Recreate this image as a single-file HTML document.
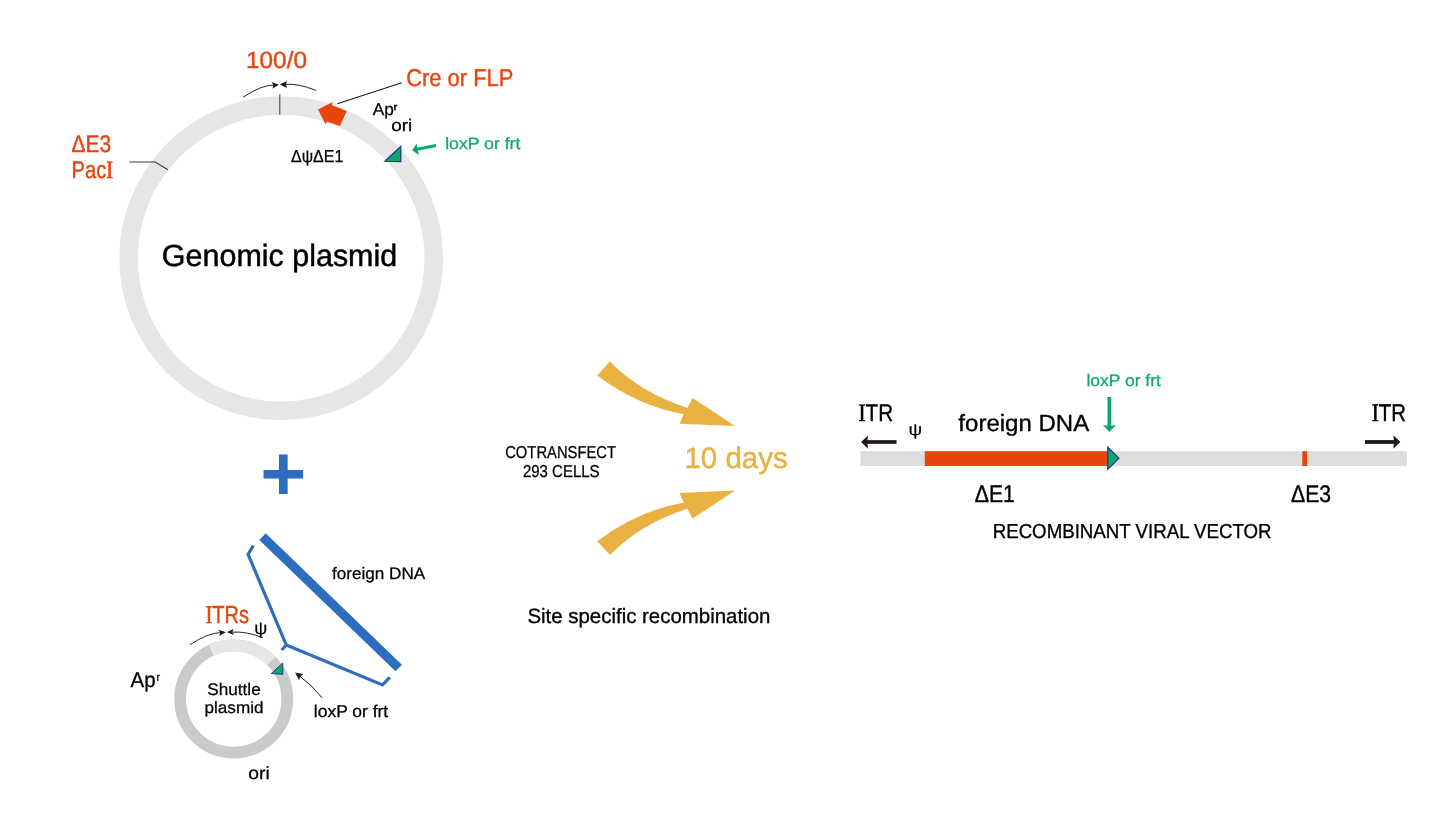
<!DOCTYPE html>
<html lang="en">
<head>
<meta charset="utf-8">
<title>Site specific recombination</title>
<style>
html,body{margin:0;padding:0;background:#fff;}
body{width:1450px;height:834px;overflow:hidden;}
svg{display:block;}
text{font-family:"Liberation Sans", sans-serif;white-space:pre;text-rendering:geometricPrecision;}
.sf{font-family:"Liberation Serif",serif;}
.sup{font-weight:bold;stroke-width:0.3px;}
</style>
</head>
<body>
<svg width="1450" height="834" viewBox="0 0 1450 834" role="img" aria-label="Site specific recombination diagram">
<rect width="1450" height="834" fill="#fff"/>
<circle cx="281.2" cy="258.2" r="152.6" fill="none" stroke="#E6E6E6" stroke-width="18.5"/>
<path d="M279.8 94.2V114.8" stroke="#4A4645" stroke-width="1.1" fill="none"/>
<path d="M129.3 162H155.1L167.9 169.7" stroke="#3E3A39" stroke-width="1.1" fill="none"/>
<path d="M401.8 82.8L337.4 103.7" stroke="#231815" stroke-width="1.1" fill="none"/>
<path d="M318 109.5L332.7 101.9L332 105.2L346.8 111.1L339.9 126L327 121.4L325.5 124.2Z" fill="#E8440C"/>
<path d="M400.8 146.4V161.6L384.9 161.3Z" fill="#0CA771" stroke="#1B2F8E" stroke-width="1.2" stroke-linejoin="miter"/>
<path d="M436.1 145.5L417 149.3" stroke="#0CA771" stroke-width="3" fill="none"/>
<path d="M412.1 150.3L416.6 143.7L417.7 149.2L418.8 155Z" fill="#0CA771"/>
<path d="M243.1 97.2Q262 84.5 274.5 85.2" stroke="#231815" stroke-width="0.95" fill="none"/>
<path d="M278.9 84.8L271.6 82.1L273.6 85.4L272.3 88.8Z" fill="#231815"/>
<path d="M285.5 84.4Q298 83.2 315.9 90.4" stroke="#231815" stroke-width="0.95" fill="none"/>
<path d="M279.7 84.6L287 81.1L285.9 84.4L287.1 87.9Z" fill="#231815"/>
<circle cx="233.7" cy="699" r="53.6" fill="none" stroke="#C9CACA" stroke-width="11.8"/>
<path d="M211.13 650.38 A53.6 53.6 0 0 1 271.47 660.97" fill="none" stroke="#E6E6E6" stroke-width="11.8"/>
<path d="M282.8 663V674.3L271.2 673.6Z" fill="#0CA771" stroke="#1B2F8E" stroke-width="0.9"/>
<path d="M190 644.7Q208 632.8 221 632.6" stroke="#231815" stroke-width="0.95" fill="none"/>
<path d="M225.9 632.3L218.4 629.8L220.3 632.7L219.2 636Z" fill="#231815"/>
<path d="M232 632.1Q247 631.3 262.8 637.7" stroke="#231815" stroke-width="0.95" fill="none"/>
<path d="M227 632.3L233.3 629.1L232.3 632.2L233.9 634.9Z" fill="#231815"/>
<path d="M322 697.8Q311 684 299.5 676" stroke="#231815" stroke-width="1" fill="none"/>
<path d="M295.1 672.6L303.3 674.1L300.2 676.5L299.1 680.3Z" fill="#231815"/>
<path d="M262.45 536.65L398.7 667.95" stroke="#2E6DBE" stroke-width="9.2" fill="none"/>
<path d="M253.3 545.7L248.1 554.3L286.3 645.1L382.5 684.9L389.8 677.4M286.3 645.1L281.6 650" stroke="#2E6DBE" stroke-width="3.2" fill="none" stroke-linejoin="miter"/>
<path d="M609.9 361.6 Q640.5 393 687.3 407.9 L692.6 398 L735.1 426.1 L679.4 423.7 L683.8 414.2 Q637 405.5 597.2 375.4 Z" fill="#E8B142"/>
<path d="M609.9 555 Q640.5 523.6 687.3 508.7 L692.6 518.6 L735.1 490.5 L679.4 492.9 L683.8 502.4 Q637 511.1 597.2 541.2 Z" fill="#E8B142"/>
<rect x="860.4" y="451.2" width="546.5" height="14.8" fill="#DCDDDD"/>
<rect x="924.8" y="451.2" width="183" height="14.8" fill="#E8440C"/>
<rect x="1302.3" y="451.2" width="4.8" height="14.8" fill="#E8440C"/>
<path d="M1107.8 447.1L1118.9 458.2L1107.8 469.3Z" fill="#0CA771" stroke="#1B2F8E" stroke-width="1.2"/>
<path d="M896.5 442H866.8" stroke="#231815" stroke-width="3.7" fill="none"/>
<path d="M861.1 442L868 435.4L867.2 442L868 448.7Z" fill="#231815"/>
<path d="M1365 442H1394.6" stroke="#231815" stroke-width="3.8" fill="none"/>
<path d="M1400.3 442L1393.3 435.2L1394.1 442L1393.3 448.8Z" fill="#231815"/>
<path d="M1109.4 397V426.5" stroke="#0CA771" stroke-width="3.8" fill="none"/>
<path d="M1109.4 432L1102.7 424.9L1109.4 426.1L1116 424.9Z" fill="#0CA771"/>
<text transform="translate(245.95 68.2) scale(1.0389 0.9969)" font-size="23.5" fill="#E8440C" stroke="#E8440C" stroke-width="0.37">100/0</text>
<text transform="translate(406.17 85.9) scale(0.9329 1.0319)" font-size="23.5" fill="#E8440C" stroke="#E8440C" stroke-width="0.38">Cre or FLP</text>
<text transform="translate(71.53 151.8) scale(0.8918 1.0232)" font-size="23.5" fill="#E8440C" stroke="#E8440C" stroke-width="0.39">ΔE3</text>
<text transform="translate(71.61 178) scale(0.8548 1.0294)" font-size="23.5" fill="#E8440C" stroke="#E8440C" stroke-width="0.4">Pac<tspan class="sf" font-size="24.2" stroke-width="0.6">I</tspan></text>
<text transform="translate(372.76 114.7) scale(1.0412 1.0405)" font-size="16.5" fill="#000000" stroke="#000000" stroke-width="0.25">Ap<tspan class="sup" dx="-0.2" dy="-4.9" font-size="9.2">r</tspan></text>
<text transform="translate(391.32 130.7) scale(1.1107 0.9972)" font-size="17" fill="#000000" stroke="#000000" stroke-width="0.26">ori</text>
<text transform="translate(291.02 161.8) scale(0.9689 1.0479)" font-size="16.5" fill="#000000" stroke="#000000" stroke-width="0.26">ΔψΔE1</text>
<text transform="translate(445.18 148.5) scale(1.0689 1.0002)" font-size="16.5" fill="#0CA771" stroke="#0CA771" stroke-width="0.26">loxP or frt</text>
<text transform="translate(161.87 266.3) scale(1.0154 1.0203)" font-size="30" fill="#000000" stroke="#000000" stroke-width="0.47">Genomic plasmid</text>
<text transform="translate(331.99 578.6) scale(1.0381 1.0062)" font-size="16.5" fill="#000000" stroke="#000000" stroke-width="0.26">foreign DNA</text>
<text transform="translate(205.4 622.9) scale(0.8527 1.0479)" font-size="23.5" fill="#E8440C" stroke="#E8440C" stroke-width="0.4"><tspan class="sf" font-size="24.2" stroke-width="0.6">I</tspan>TRs</text>
<text transform="translate(130.58 686.9) scale(1.0375 1.0816)" font-size="19.7" fill="#000000" stroke="#000000" stroke-width="0.3">Ap<tspan dx="0.9" dy="-5.3" font-size="10.6" stroke-width="0.2">r</tspan></text>
<text transform="translate(207.2 694.8) scale(1.0422 1.0155)" font-size="16.5" fill="#000000" stroke="#000000" stroke-width="0.26">Shuttle</text>
<text transform="translate(204.45 712.8) scale(1.0384 0.9891)" font-size="16.5" fill="#000000" stroke="#000000" stroke-width="0.26">plasmid</text>
<text transform="translate(248.34 779) scale(1.1033 0.9995)" font-size="17.5" fill="#000000" stroke="#000000" stroke-width="0.27">ori</text>
<text transform="translate(313.84 717.1) scale(1.0267 1.0013)" font-size="17" fill="#000000" stroke="#000000" stroke-width="0.27">loxP or frt</text>
<text transform="translate(505.2 457.9) scale(0.9076 1.0605)" font-size="16.3" fill="#000000" stroke="#000000" stroke-width="0.27">COTRANSFECT</text>
<text transform="translate(522.92 477.1) scale(0.9208 1.0568)" font-size="16.3" fill="#000000" stroke="#000000" stroke-width="0.26">293 CELLS</text>
<text transform="translate(684.41 467.5) scale(1.0345 1.0393)" font-size="28.5" fill="#E8B142" stroke="#E8B142" stroke-width="0.44">10 days</text>
<text transform="translate(527.42 623) scale(1.0212 1.0333)" font-size="20" fill="#000000" stroke="#000000" stroke-width="0.31">Site specific recombination</text>
<text transform="translate(858.53 421) scale(0.8781 1.0294)" font-size="23.5" fill="#000000" stroke="#000000" stroke-width="0.39"><tspan class="sf" font-size="24.2" stroke-width="0.6">I</tspan>TR</text>
<text transform="translate(958.35 430.9) scale(1.0677 1.041)" font-size="22.5" fill="#000000" stroke="#000000" stroke-width="0.34">foreign DNA</text>
<text transform="translate(1086.49 385.9) scale(1.0391 0.9923)" font-size="16.8" fill="#0CA771" stroke="#0CA771" stroke-width="0.26">loxP or frt</text>
<text transform="translate(1371.85 421) scale(0.8674 1.0316)" font-size="23.5" fill="#000000" stroke="#000000" stroke-width="0.4"><tspan class="sf" font-size="24.2" stroke-width="0.6">I</tspan>TR</text>
<text transform="translate(974.7 502) scale(0.9039 1.0316)" font-size="23.5" fill="#000000" stroke="#000000" stroke-width="0.39">ΔE1</text>
<text transform="translate(1291.07 502) scale(0.9008 1.0213)" font-size="23.5" fill="#000000" stroke="#000000" stroke-width="0.39">ΔE3</text>
<text transform="translate(992.68 537.9) scale(0.9339 1.0118)" font-size="20" fill="#000000" stroke="#000000" stroke-width="0.33">RECOMBINANT VIRAL VECTOR</text>
<text transform="translate(254.24 634.39) scale(1.0158 0.9658)" font-size="18" fill="#000000" stroke="#000000" stroke-width="0.2">ψ</text>
<text transform="translate(908.4 434.83) scale(1.0648 0.9162)" font-size="18" fill="#000000" stroke="#000000" stroke-width="0.2">ψ</text>
<text transform="translate(260.32 499.84) scale(0.9868 0.9709)" font-size="80" fill="#2E6DBE" font-weight="bold">+</text>
</svg>
</body>
</html>
